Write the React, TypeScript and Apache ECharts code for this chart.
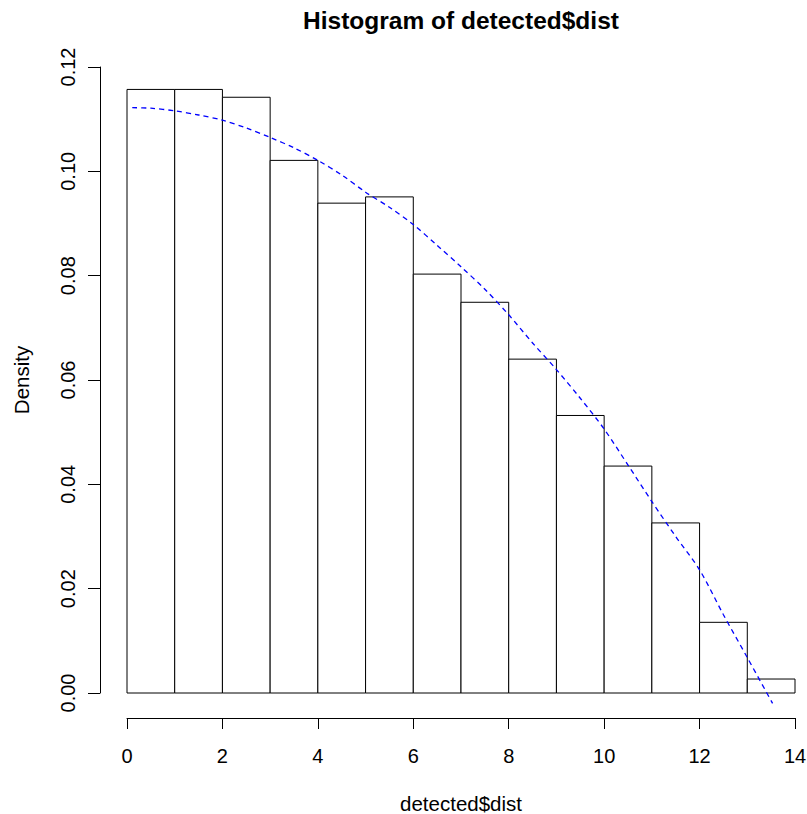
import React, { useEffect, useRef } from "react";
import * as echarts from "echarts";

const breaks = [0, 1, 2, 3, 4, 5, 6, 7, 8, 9, 10, 11, 12, 13, 14];
const densities = [0.1157, 0.1157, 0.1142, 0.1021, 0.0939, 0.0951, 0.0803, 0.0749, 0.064, 0.0532, 0.0435, 0.0326, 0.01355, 0.00268];
const curveX = [0.11, 0.5, 1, 1.5, 2, 2.5, 3, 3.5, 4, 4.5, 5, 5.5, 6, 6.5, 7, 7.5, 8, 8.5, 9, 9.5, 10, 10.5, 11, 11.5, 12, 12.5, 13, 13.53];
const curveY = [0.1122, 0.1121, 0.1116, 0.1108, 0.1098, 0.1083, 0.1065, 0.1045, 0.1021, 0.0993, 0.096, 0.0931, 0.0898, 0.0858, 0.0817, 0.0774, 0.0725, 0.0671, 0.062, 0.0565, 0.0506, 0.0437, 0.0367, 0.03, 0.0236, 0.015, 0.0068, -0.002];
const xTicks = [0, 2, 4, 6, 8, 10, 12, 14];
const yTicks = ["0.00", "0.02", "0.04", "0.06", "0.08", "0.10", "0.12"];

const FONT = '"Liberation Sans", Arial, Helvetica, sans-serif';

export default function App() {
  const ref = useRef<HTMLDivElement>(null);
  useEffect(() => {
    if (!ref.current) return;
    const chart = echarts.init(ref.current, null, { renderer: "svg" });
    const barData = densities.map((d, i) => [breaks[i], breaks[i + 1], d]);
    const lineData = curveX.map((x, i) => [x, curveY[i]]);
    chart.setOption({
      animation: false,
      backgroundColor: "#ffffff",
      textStyle: { fontFamily: FONT },
      graphic: [
        {
          type: "text",
          x: 461,
          y: 20,
          style: {
            text: "Histogram of detected$dist",
            fontFamily: FONT,
            fontWeight: "bold",
            fontSize: 24.5,
            fill: "#000",
            textAlign: "center",
            textVerticalAlign: "middle",
          },
        },
      ],
      grid: { left: 127, right: 12, top: 67, bottom: 121, containLabel: false, outerBoundsMode: "none" },
      xAxis: {
        type: "value",
        min: 0,
        max: 14,
        interval: 2,
        offset: 25,
        name: "detected$dist",
        nameLocation: "middle",
        nameGap: 75,
        nameTextStyle: { fontFamily: FONT, fontSize: 20.5, color: "#000" },
        axisLine: { show: true, onZero: false, lineStyle: { color: "#000", width: 1 } },
        axisTick: { show: true, length: 11, inside: false, lineStyle: { color: "#000", width: 1 } },
        axisLabel: {
          fontFamily: FONT,
          fontSize: 20,
          color: "#000",
          margin: 28,
          formatter: (v: number) => (xTicks.includes(v) ? String(v) : ""),
        },
        splitLine: { show: false },
      },
      yAxis: {
        type: "value",
        min: 0,
        max: 0.12,
        interval: 0.02,
        offset: 27,
        name: "Density",
        nameLocation: "middle",
        nameGap: 68,
        nameRotate: 90,
        nameTextStyle: { fontFamily: FONT, fontSize: 20.5, color: "#000" },
        axisLine: { show: true, onZero: false, lineStyle: { color: "#000", width: 1 } },
        axisTick: { show: true, length: 12, inside: false, lineStyle: { color: "#000", width: 1 } },
        axisLabel: {
          fontFamily: FONT,
          fontSize: 20,
          color: "#000",
          rotate: 90,
          margin: 22,
          formatter: (v: number) => yTicks[Math.round(v / 0.02)] ?? "",
        },
        splitLine: { show: false },
      },
      series: [
        {
          type: "custom",
          data: barData,
          encode: { x: [0, 1], y: 2 },
          renderItem: (params: any, api: any) => {
            const x0 = api.value(0);
            const x1 = api.value(1);
            const d = api.value(2);
            const p0 = api.coord([x0, d]);
            const p1 = api.coord([x1, 0]);
            return {
              type: "rect",
              shape: { x: p0[0], y: p0[1], width: p1[0] - p0[0], height: p1[1] - p0[1] },
              style: { fill: "#ffffff", stroke: "#000000", lineWidth: 1 },
            };
          },
          z: 2,
        },
        {
          type: "line",
          data: lineData,
          smooth: 0.3,
          symbol: "none",
          clip: false,
          lineStyle: { color: "#0000ff", width: 1.3, type: [5, 4] },
          z: 3,
        },
      ],
    });
    return () => chart.dispose();
  }, []);
  return (
    <div
      ref={ref}
      style={{ position: "fixed", left: 0, top: 0, width: 807, height: 814, background: "#fff" }}
    />
  );
}
